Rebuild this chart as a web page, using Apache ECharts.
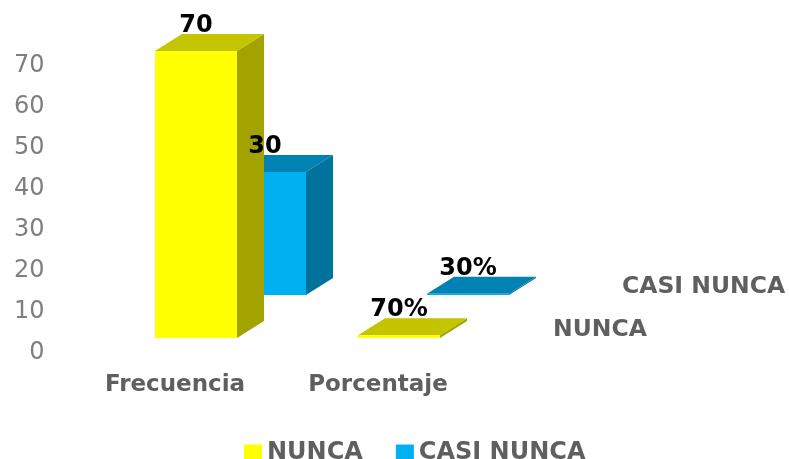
<!DOCTYPE html>
<html>
<head>
<meta charset="utf-8">
<style>html,body{margin:0;padding:0;background:#fff}#c{width:789px;height:459px}</style>
<script src="https://cdn.jsdelivr.net/npm/echarts@6/dist/echarts.min.js"></script>
</head>
<body>
<div id="c"></div>
<script>
const categories = ['Frecuencia', 'Porcentaje'];
const nunca = [70, 0.7];
const casiNunca = [30, 0.3];
const nuncaLabels = ['70', '70%'];
const casiNuncaLabels = ['30', '30%'];
const yTicks = {min: 0, max: 70, interval: 10};

const BAR_W = 82, DEPTH_X = 27, DEPTH_Y = 17;
const GREY = '#5f5f5f';
const F = '"DejaVu Sans", sans-serif';

function face(points, fill) {
  return {type: 'polygon', shape: {points}, style: {fill}, silent: true};
}
function barRender(dx, dy, colors) {
  return function (params, api) {
    const base = api.coord([api.value(0), 0]);
    const top = api.coord([api.value(0), api.value(1)]);
    const l = base[0] + dx, r = l + BAR_W, b = base[1] + dy, t = top[1] + dy;
    return {type: 'group', children: [
      face([[r, b], [r + DEPTH_X, b - DEPTH_Y], [r + DEPTH_X, t - DEPTH_Y], [r, t]], colors.side),
      face([[l, t], [l + DEPTH_X, t - DEPTH_Y], [r + DEPTH_X, t - DEPTH_Y], [r, t]], colors.top),
      face([[l, b], [r, b], [r, t], [l, t]], colors.front)
    ]};
  };
}
function labelRender(dx, dy, texts) {
  return function (params, api) {
    const top = api.coord([api.value(0), api.value(1)]);
    return {type: 'text', silent: true, style: {
      x: top[0] + dx + BAR_W / 2, y: top[1] + dy - 25.5,
      text: texts[params.dataIndex], align: 'center', verticalAlign: 'middle',
      fill: '#000', font: 'bold 24px ' + F
    }};
  };
}
const toData = a => a.map((v, i) => [i, v]);
const YELLOW = {front: '#FFFF00', top: '#C4C400', side: '#A3A300'};
const BLUE = {front: '#00B0F0', top: '#0083B3', side: '#00739D'};
const Y_DX = -20, Y_DY = -15, B_DX = 49, B_DY = -58;

const chart = echarts.init(document.getElementById('c'), null, {renderer: 'canvas'});
chart.setOption({
  animation: false,
  backgroundColor: '#fff',
  grid: {left: 73.5, width: 406, top: 66, height: 287},
  legend: {
    data: [{name: 'NUNCA', itemStyle: {color: YELLOW.front}}, {name: 'CASI NUNCA', itemStyle: {color: BLUE.front}}],
    left: 244, top: 441, padding: 0, icon: 'rect', itemWidth: 18, itemHeight: 17, itemGap: 33,
    textStyle: {color: GREY, fontFamily: F, fontWeight: 'bold', fontSize: 24}
  },
  xAxis: {type: 'category', data: categories, axisLine: {show: false}, axisTick: {show: false},
    axisLabel: {color: GREY, fontFamily: F, fontWeight: 'bold', fontSize: 23, margin: 21}},
  yAxis: {type: 'value', min: yTicks.min, max: yTicks.max, interval: yTicks.interval,
    axisLine: {show: false}, axisTick: {show: false}, splitLine: {show: false},
    axisLabel: {color: '#7f7f7f', fontFamily: F, fontSize: 24, margin: 29}},
  graphic: [
    {type: 'text', x: 622, y: 287, style: {text: 'CASI NUNCA', fill: GREY, verticalAlign: 'middle', font: 'bold 23.5px ' + F}},
    {type: 'text', x: 553, y: 330, style: {text: 'NUNCA', fill: GREY, verticalAlign: 'middle', font: 'bold 23.5px ' + F}}
  ],
  series: [
    {name: 'NUNCA', type: 'custom', z: 3, clip: false, data: toData(nunca), encode: {x: 0, y: 1}, renderItem: barRender(Y_DX, Y_DY, YELLOW)},
    {name: 'CASI NUNCA', type: 'custom', z: 2, clip: false, data: toData(casiNunca), encode: {x: 0, y: 1}, renderItem: barRender(B_DX, B_DY, BLUE)},
    {name: 'etiquetas1', type: 'custom', z: 6, clip: false, data: toData(nunca), encode: {x: 0, y: 1}, renderItem: labelRender(Y_DX, Y_DY, nuncaLabels)},
    {name: 'etiquetas2', type: 'custom', z: 6, clip: false, data: toData(casiNunca), encode: {x: 0, y: 1}, renderItem: labelRender(B_DX, B_DY, casiNuncaLabels)}
  ]
});
</script>
</body>
</html>
